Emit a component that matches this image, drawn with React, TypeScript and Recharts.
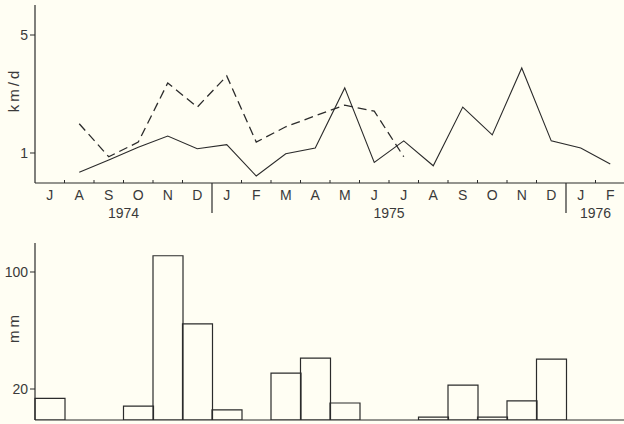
import { Bar, BarChart, Line, LineChart, XAxis, YAxis } from 'recharts'

const MONTHS = ['J', 'A', 'S', 'O', 'N', 'D', 'J', 'F', 'M', 'A', 'M', 'J', 'J', 'A', 'S', 'O', 'N', 'D', 'J', 'F']
const YEARS = ['1974', '1975', '1976']
const YEAR_MONTHS = [6, 12, 2]

// km/d, log axis
const SOLID = [null, 0.77, 0.91, 1.08, 1.26, 1.06, 1.12, 0.73, 0.99, 1.07, 2.43, 0.88, 1.18, 0.84, 1.87, 1.28, 3.19, 1.18, 1.07, 0.86]
const DASHED = [null, 1.49, 0.95, 1.16, 2.6, 1.87, 2.86, 1.16, 1.43, 1.66, 1.92, 1.77, 0.95, null, null, null, null, null, null, null]

// rainfall mm, log axis
const RAIN = [17.6, null, null, 15.8, 125, 49, 15, null, 24.9, 30.6, 16.5, null, null, 13.6, 21.1, 13.6, 17, 30.2, null, null]

const W = 625
const AXIS_W = 35
const BAND = (W - AXIS_W) / MONTHS.length
const INK = '#2b2b2b'
const TEXT = '#3a3a3a'
const FONT = '"Liberation Sans", Arial, sans-serif'

const lineData = MONTHS.map((m, i) => ({ idx: i, month: m, solid: SOLID[i], dashed: DASHED[i] }))
const barData = MONTHS.map((m, i) => ({ idx: i, month: m, rain: RAIN[i] }))

// year start index -> year info
const yearStarts: Record<number, { label: string; count: number }> = {}
let acc = 0
YEARS.forEach((y, i) => {
  yearStarts[acc] = { label: y, count: YEAR_MONTHS[i] }
  acc += YEAR_MONTHS[i]
})

const MonthTick = (props: any) => {
  const { x, y, payload, index } = props
  const left = x - BAND / 2
  const yr = yearStarts[index]
  return (
    <g>
      {index > 0 && !yr && (
        <line x1={left} x2={left} y1={y} y2={y - 3} stroke={INK} strokeWidth={1} />
      )}
      {index > 0 && yr && (
        <line x1={left} x2={left} y1={y} y2={y + 30} stroke={INK} strokeWidth={1.2} />
      )}
      <text x={x} y={y + 17} textAnchor="middle" fontSize={14} fill={TEXT} fontFamily={FONT}>
        {MONTHS[index] ?? payload.value}
      </text>
      {yr && (
        <text
          x={left + (yr.count * BAND) / 2}
          y={y + 35}
          textAnchor="middle"
          fontSize={14}
          fill={TEXT}
          fontFamily={FONT}
        >
          {yr.label}
        </text>
      )}
    </g>
  )
}

const AxisTitle = (props: any) => {
  const { viewBox, value, dy = 0 } = props
  const x = viewBox.x + 13
  const y = viewBox.y + viewBox.height / 2 + dy
  return (
    <text
      x={x}
      y={y}
      transform={`rotate(-90 ${x} ${y})`}
      textAnchor="middle"
      dominantBaseline="central"
      fontSize={15}
      letterSpacing={3}
      fill={TEXT}
      fontFamily={FONT}
    >
      {value}
    </text>
  )
}

const tickStyle = { fontSize: 14, fill: TEXT, fontFamily: FONT }

export default function App() {
  return (
    <div
      style={{
        position: 'absolute',
        left: 0,
        top: 0,
        width: 624,
        height: 424,
        overflow: 'hidden',
        background: '#fffef3',
      }}
    >
      <LineChart width={W} height={230} data={lineData} margin={{ top: 5, right: 0, left: 0, bottom: 0 }}>
        <XAxis
          dataKey="idx"
          type="category"
          scale="band"
          height={47}
          tick={<MonthTick />}
          tickLine={false}
          tickSize={0}
          tickMargin={0}
          interval={0}
          stroke={INK}
          axisLine={{ stroke: INK, strokeWidth: 1.2 }}
        />
        <YAxis
          scale="log"
          domain={[0.664, 7.53]}
          allowDataOverflow
          ticks={[1, 5]}
          width={AXIS_W}
          tickSize={5}
          tickMargin={2}
          tick={tickStyle}
          stroke={INK}
          axisLine={{ stroke: INK, strokeWidth: 1.2 }}
          label={<AxisTitle value="km/d" dy={-4} />}
        />
        <Line
          dataKey="solid"
          stroke={INK}
          strokeWidth={1.1}
          dot={false}
          isAnimationActive={false}
        />
        <Line
          dataKey="dashed"
          stroke={INK}
          strokeWidth={1.3}
          strokeDasharray="9 5"
          dot={false}
          isAnimationActive={false}
        />
      </LineChart>
      <BarChart
        width={W}
        height={194}
        data={barData}
        margin={{ top: 13, right: 0, left: 0, bottom: 0 }}
        barCategoryGap={0}
        barGap={0}
      >
        <XAxis
          dataKey="idx"
          height={4}
          tick={false}
          tickLine={false}
          axisLine={{ stroke: INK, strokeWidth: 1.2 }}
        />
        <YAxis
          scale="log"
          domain={[13.06, 149]}
          allowDataOverflow
          ticks={[20, 100]}
          width={AXIS_W}
          tickSize={5}
          tickMargin={2}
          tick={tickStyle}
          stroke={INK}
          axisLine={{ stroke: INK, strokeWidth: 1.2 }}
          label={<AxisTitle value="mm" dy={-4} />}
        />
        <Bar dataKey="rain" fill="none" stroke={INK} strokeWidth={1.2} isAnimationActive={false} />
      </BarChart>
    </div>
  )
}
